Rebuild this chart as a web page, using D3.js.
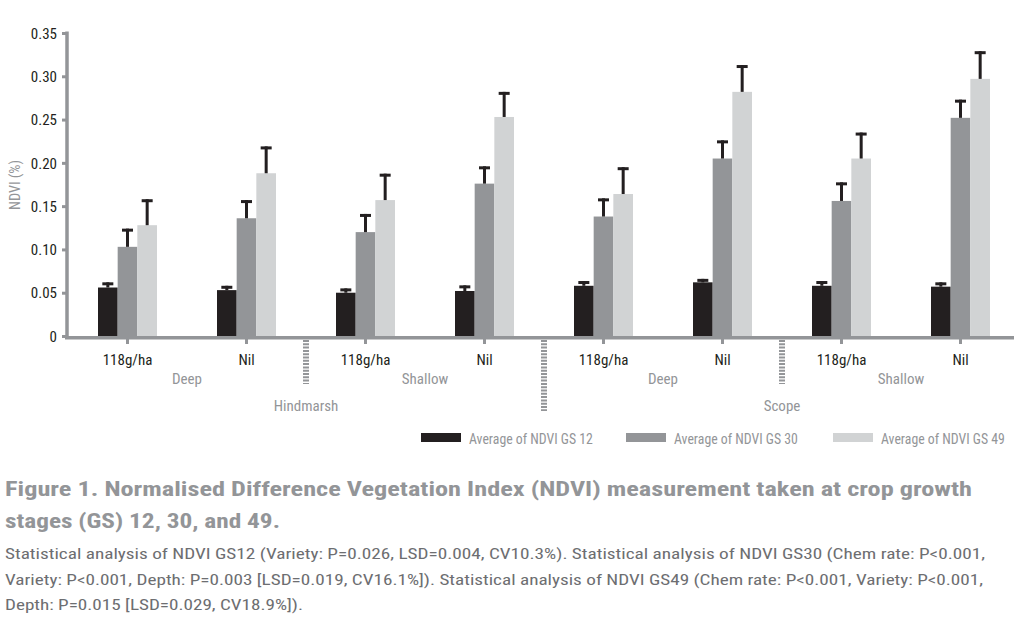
<!DOCTYPE html>
<html>
<head>
<meta charset="utf-8">
<script src="https://cdn.jsdelivr.net/npm/d3@7"></script>
<style>
  body { margin: 0; background: #fff; }
  text { font-family: "Liberation Sans Narrow", "Roboto Condensed", "Open Sans Condensed", "Liberation Sans", sans-serif; }
</style>
</head>
<body>
<svg id="chart" width="1014" height="618"></svg>
<script>
// chart values
const rates = ["118g/ha", "Nil", "118g/ha", "Nil", "118g/ha", "Nil", "118g/ha", "Nil"];
const depths = ["Deep", "Shallow", "Deep", "Shallow"];
const varieties = ["Hindmarsh", "Scope"];
const seriesNames = ["Average of NDVI GS 12", "Average of NDVI GS 30", "Average of NDVI GS 49"];
const gs12 = [0.056, 0.053, 0.050, 0.052, 0.058, 0.062, 0.058, 0.057];
const gs12Err = [0.006, 0.005, 0.005, 0.0065, 0.0055, 0.004, 0.0055, 0.005];
const gs30 = [0.103, 0.136, 0.120, 0.176, 0.138, 0.205, 0.156, 0.252];
const gs30Err = [0.021, 0.021, 0.021, 0.020, 0.021, 0.021, 0.0215, 0.021];
const gs49 = [0.128, 0.188, 0.157, 0.253, 0.164, 0.282, 0.205, 0.297];
const gs49Err = [0.030, 0.031, 0.0305, 0.029, 0.031, 0.031, 0.030, 0.032];
const yTicks = [0, 0.05, 0.10, 0.15, 0.20, 0.25, 0.30, 0.35];

const colors = ["#231f20", "#939598", "#d1d3d4"];
const axisGrey = "#939598";
const ink = "#231f20";

const svg = d3.select("#chart");

const x = d3.scaleBand()
  .domain(d3.range(rates.length))
  .range([68, 1020]);

const x1 = d3.scaleBand()
  .domain([0, 1, 2])
  .range([x.bandwidth() / 2 - 29.5, x.bandwidth() / 2 + 29.5]);

const y = d3.scaleLinear()
  .domain([0, 0.35])
  .range([336, 33]);

const rows = rates.map((r, i) => ({
  i: i,
  vals: [
    {s: 0, v: gs12[i], e: gs12Err[i]},
    {s: 1, v: gs30[i], e: gs30Err[i]},
    {s: 2, v: gs49[i], e: gs49Err[i]}
  ]
}));

// bars
const groups = svg.append("g")
  .selectAll("g")
  .data(rows)
  .join("g")
  .attr("transform", d => `translate(${x(d.i)},0)`);

groups.selectAll("rect.bar")
  .data(d => d.vals)
  .join("rect")
  .attr("class", "bar")
  .attr("x", d => x1(d.s))
  .attr("width", x1.bandwidth())
  .attr("y", d => y(d.v))
  .attr("height", d => y(0) - y(d.v))
  .attr("fill", d => colors[d.s]);

// error bars
groups.selectAll("rect.stem")
  .data(d => d.vals)
  .join("rect")
  .attr("class", "stem")
  .attr("x", d => x1(d.s) + x1.bandwidth() / 2 - 1.5)
  .attr("width", 3)
  .attr("y", d => y(d.v + d.e))
  .attr("height", d => y(d.v) - y(d.v + d.e))
  .attr("fill", ink);

groups.selectAll("rect.cap")
  .data(d => d.vals)
  .join("rect")
  .attr("class", "cap")
  .attr("x", d => x1(d.s) + x1.bandwidth() / 2 - 5.5)
  .attr("width", 11)
  .attr("y", d => y(d.v + d.e))
  .attr("height", 3)
  .attr("fill", ink);

// y axis
const yAxis = svg.append("g")
  .attr("transform", "translate(67,0)")
  .call(d3.axisLeft(y).tickValues(yTicks).tickSize(5).tickPadding(5)
    .tickFormat(d => d === 0 ? "0" : d.toFixed(2)));
yAxis.select(".domain").remove();
yAxis.selectAll(".tick line").attr("stroke", axisGrey).attr("stroke-width", 3);
yAxis.selectAll(".tick text")
  .attr("fill", ink)
  .style("font-size", "15px")
  .attr("dy", "0.35em");
svg.append("line")
  .attr("x1", 67).attr("x2", 67)
  .attr("y1", y(0.35) - 1.5).attr("y2", y(0) + 2)
  .attr("stroke", axisGrey).attr("stroke-width", 3.5);

// x axis
svg.append("line")
  .attr("x1", 65).attr("x2", 1014)
  .attr("y1", y(0) + 1.8).attr("y2", y(0) + 1.8)
  .attr("stroke", axisGrey).attr("stroke-width", 3.6);

const xAxis = svg.append("g")
  .attr("transform", `translate(0,${y(0) + 3})`)
  .call(d3.axisBottom(x).tickSize(5).tickPadding(10).tickFormat(i => rates[i]));
xAxis.select(".domain").remove();
xAxis.selectAll(".tick line").attr("stroke", axisGrey).attr("stroke-width", 3);
xAxis.selectAll(".tick text")
  .attr("fill", ink)
  .style("font-size", "15px");

// depth labels
const pairX = k => (x(2 * k) + x(2 * k + 1) + x.bandwidth()) / 2;
svg.append("g")
  .selectAll("text")
  .data(depths)
  .join("text")
  .attr("x", (d, k) => pairX(k))
  .attr("y", 384)
  .attr("text-anchor", "middle")
  .attr("fill", axisGrey)
  .style("font-size", "15px")
  .text(d => d);

// variety labels
svg.append("g")
  .selectAll("text")
  .data(varieties)
  .join("text")
  .attr("x", (d, k) => x(4 * k + 2))
  .attr("y", 411)
  .attr("text-anchor", "middle")
  .attr("fill", axisGrey)
  .style("font-size", "15px")
  .text(d => d);

// dashed separators between depth / variety groups
const seps = [2, 4, 6];
svg.append("g")
  .selectAll("line")
  .data(seps)
  .join("line")
  .attr("x1", d => x(d)).attr("x2", d => x(d))
  .attr("y1", 340)
  .attr("y2", d => d === 4 ? 411 : 384)
  .attr("stroke", axisGrey)
  .attr("stroke-width", 6)
  .attr("stroke-dasharray", "2,1.3");

// legend
const legendX = [421, 626, 833];
const legend = svg.append("g")
  .selectAll("g")
  .data(seriesNames)
  .join("g")
  .attr("transform", (d, i) => `translate(${legendX[i]},433)`);
legend.append("rect")
  .attr("width", 40).attr("height", 9)
  .attr("fill", (d, i) => colors[i]);
legend.append("text")
  .attr("fill", axisGrey)
  .style("font-size", "15px")
  .text(d => d)
  .attr("transform", function() {
    const sx = Math.min(1, 124 / this.getComputedTextLength());
    return `translate(48,11) scale(${sx},1)`;
  });

// y title
svg.append("text")
  .attr("transform", "translate(20,185) rotate(-90)")
  .attr("text-anchor", "middle")
  .attr("fill", axisGrey)
  .style("font-size", "14px")
  .attr("textLength", 50)
  .attr("lengthAdjust", "spacingAndGlyphs")
  .text("NDVI (%)");

// caption
const captionTitle = [
  "Figure 1. Normalised Difference Vegetation Index (NDVI) measurement taken at crop growth",
  "stages (GS) 12, 30, and 49."
];
const captionBody = [
  "Statistical analysis of NDVI GS12 (Variety: P=0.026, LSD=0.004, CV10.3%). Statistical analysis of NDVI GS30 (Chem rate: P<0.001,",
  "Variety: P<0.001, Depth: P=0.003 [LSD=0.019, CV16.1%]). Statistical analysis of NDVI GS49 (Chem rate: P<0.001, Variety: P<0.001,",
  "Depth: P=0.015 [LSD=0.029, CV18.9%])."
];
const titleW = [967, 275];
const bodyW = [980, 978, 298];

svg.append("g")
  .selectAll("text")
  .data(captionTitle)
  .join("text")
  .attr("x", 5)
  .attr("y", (d, i) => 496 + i * 32)
  .attr("fill", axisGrey)
  .attr("font-weight", "bold")
  .style("font-size", "21px")
  .attr("textLength", (d, i) => titleW[i])
  .attr("lengthAdjust", "spacingAndGlyphs")
  .text(d => d);

svg.append("g")
  .selectAll("text")
  .data(captionBody)
  .join("text")
  .attr("x", 5)
  .attr("y", (d, i) => 559 + i * 25.5)
  .attr("fill", "#6d6e71")
  .style("font-size", "15px")
  .attr("textLength", (d, i) => bodyW[i])
  .attr("lengthAdjust", "spacingAndGlyphs")
  .text(d => d);
</script>
</body>
</html>
